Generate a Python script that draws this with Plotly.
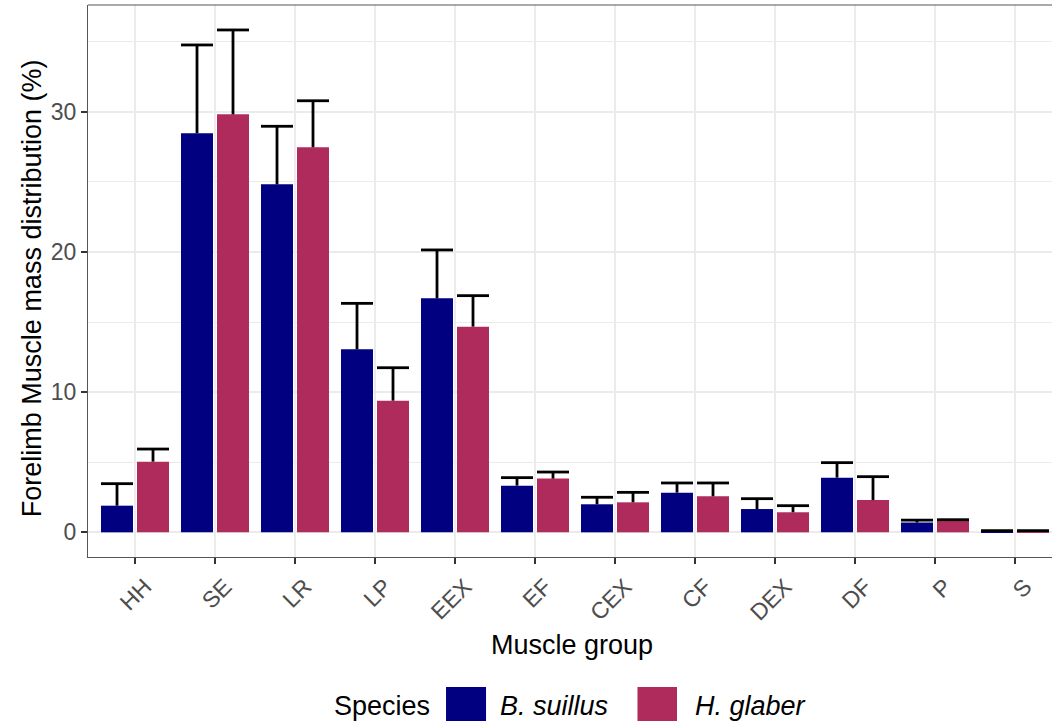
import plotly.graph_objects as go

# Forelimb muscle mass distribution (% of total), mean and SD per muscle group
muscle_groups = ["HH", "SE", "LR", "LP", "EEX", "EF", "CEX", "CF", "DEX", "DF", "P", "S"]
b_suillus_mean = [1.90, 28.46, 24.82, 13.05, 16.69, 3.33, 2.00, 2.83, 1.66, 3.90, 0.70, 0.05]
b_suillus_sd = [1.57, 6.30, 4.14, 3.28, 3.45, 0.57, 0.50, 0.69, 0.74, 1.07, 0.17, 0.07]
h_glaber_mean = [5.04, 29.81, 27.46, 9.39, 14.67, 3.83, 2.14, 2.57, 1.43, 2.30, 0.84, 0.03]
h_glaber_sd = [0.90, 6.02, 3.32, 2.35, 2.21, 0.47, 0.71, 0.95, 0.47, 1.67, 0.06, 0.09]

species = ["B. suillus", "H. glaber"]
colors = ["#000080", "#AE2B5B"]

FONT = "Liberation Sans, Arial, Helvetica, sans-serif"
GRID = "#EBEBEB"

# dodged bars: width 0.4, centres at -0.225 / +0.225 from each group position
BAR_W = 0.4
DODGE = [-0.225, 0.225]
positions = list(range(len(muscle_groups)))

fig = go.Figure()
for name, mean, col, d in zip(species, [b_suillus_mean, h_glaber_mean], colors, DODGE):
    fig.add_trace(go.Bar(
        x=positions, y=mean, name=name,
        offset=d - BAR_W / 2, width=BAR_W,
        marker=dict(color=col, line=dict(width=0)),
        showlegend=False,
    ))

# upper-only error bars (mean -> mean + sd, with a cap at the top)
for mean, sd, d in zip([b_suillus_mean, h_glaber_mean], [b_suillus_sd, h_glaber_sd], DODGE):
    ex, ey = [], []
    for p, m, s in zip(positions, mean, sd):
        xc = p + d
        top = m + s
        ex += [xc, xc, None, xc - BAR_W / 2, xc + BAR_W / 2, None]
        ey += [m, top, None, top, top, None]
    fig.add_trace(go.Scatter(
        x=ex, y=ey, mode="lines", line=dict(color="black", width=2.8),
        hoverinfo="skip", showlegend=False,
    ))

fig.update_layout(
    width=1052, height=721,
    margin=dict(l=88, r=0, t=5, b=164),
    paper_bgcolor="white", plot_bgcolor="white",
    barmode="overlay",
    font=dict(family=FONT, color="black"),
)

fig.update_xaxes(
    range=[-0.5875, 11.4625], tickvals=positions, ticktext=muscle_groups,
    showgrid=True, gridcolor=GRID, gridwidth=1.5,
    showline=True, linecolor="#555555", linewidth=1.2, mirror=False,
    ticks="outside", ticklen=6, tickwidth=1.5, tickcolor="#333333",
    tickangle=-45, ticklabelshift=10,
    tickfont=dict(size=23, color="#4D4D4D", family=FONT),
    zeroline=False,
)
fig.update_yaxes(
    range=[-1.76, 37.61], tickvals=[0, 10, 20, 30],
    showgrid=True, gridcolor=GRID, gridwidth=1.5,
    minor=dict(tickvals=[5, 15, 25, 35], showgrid=True, gridcolor=GRID, gridwidth=1),
    showline=True, linecolor="#555555", linewidth=1.2, mirror=False,
    ticks="outside", ticklen=6, tickwidth=1.5, tickcolor="#333333",
    tickfont=dict(size=23, color="#4D4D4D", family=FONT),
    zeroline=False,
)

# panel border along the top
fig.add_shape(type="line", xref="paper", yref="paper", x0=0, x1=1, y0=1, y1=1,
              line=dict(color="#555555", width=1.2))

# axis titles
fig.add_annotation(text="Muscle group", xref="paper", yref="paper",
                   x=0.502, y=-0.159, xanchor="center", yanchor="middle",
                   showarrow=False, font=dict(size=27, color="black"))
fig.add_annotation(text="Forelimb Muscle mass distribution (%)", xref="paper", yref="paper",
                   x=-0.0581, y=0.487, xanchor="center", yanchor="middle", textangle=-90,
                   showarrow=False, font=dict(size=27, color="black"))

# legend
fig.add_annotation(text="Species", xref="paper", yref="paper",
                   x=0.2531, y=-0.270, xanchor="left", yanchor="middle",
                   showarrow=False, font=dict(size=27, color="black"))
swatch_x = [(0.3714, 0.4129), (0.5700, 0.6110)]
label_x = [0.4253, 0.6276]
for (x0, x1), lx, name, col in zip(swatch_x, label_x, species, colors):
    fig.add_shape(type="rect", xref="paper", yref="paper",
                  x0=x0, x1=x1, y0=-0.308, y1=-0.2355,
                  fillcolor=col, line=dict(width=0))
    fig.add_annotation(text="<i>%s</i>" % name, xref="paper", yref="paper",
                       x=lx, y=-0.270, xanchor="left", yanchor="middle",
                       showarrow=False, font=dict(size=27, color="black"))

fig.write_html("out.html")
